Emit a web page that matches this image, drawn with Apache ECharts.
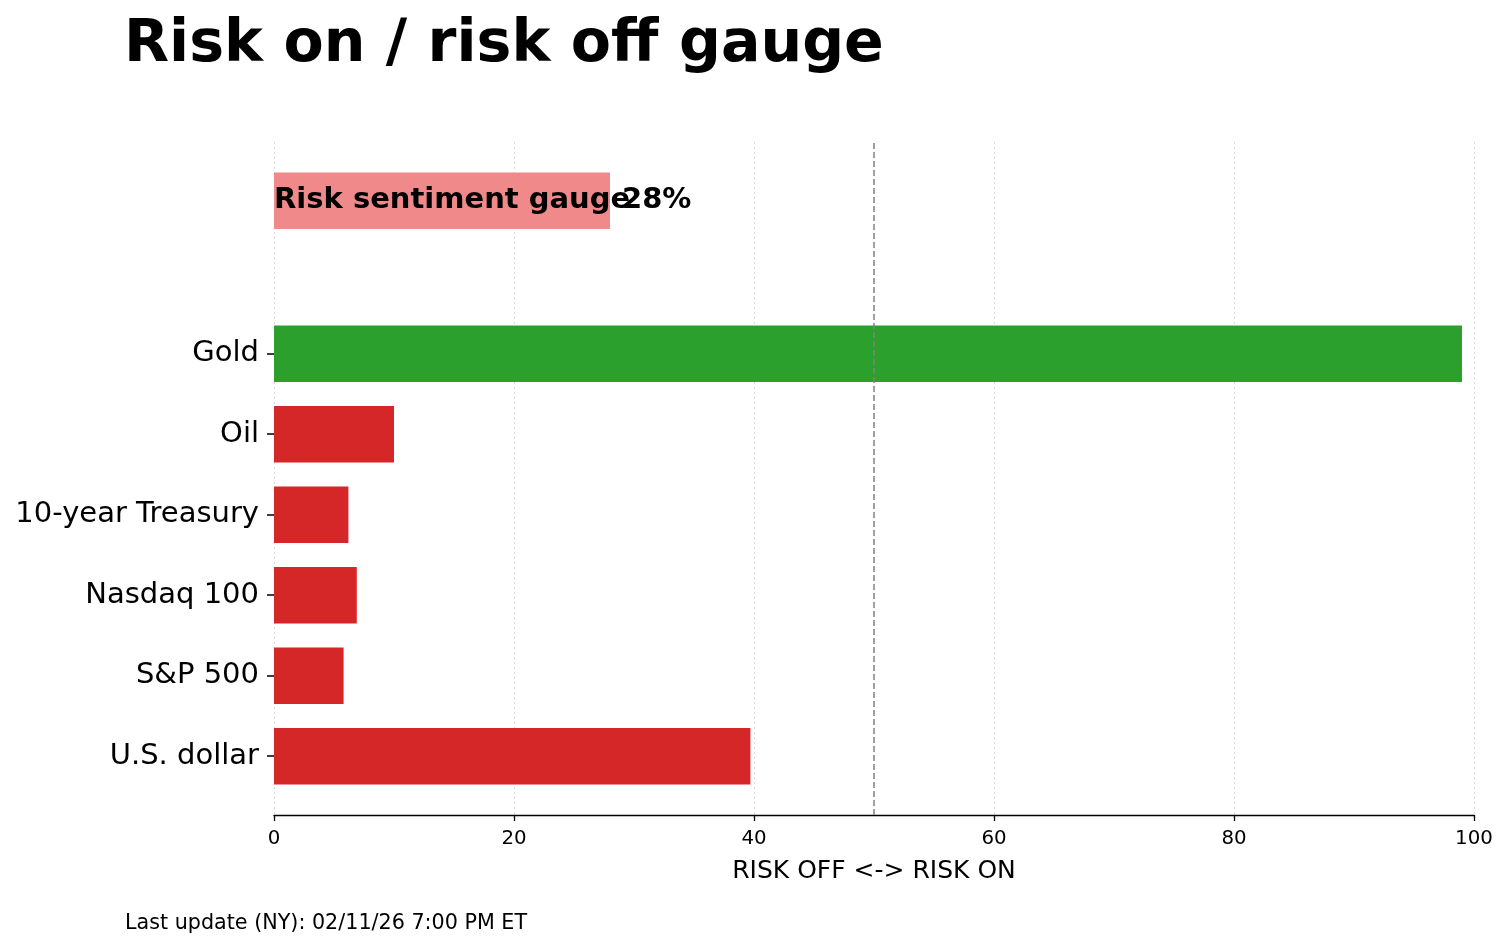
<!DOCTYPE html>
<html>
<head>
<meta charset="utf-8">
<script src="https://cdn.jsdelivr.net/npm/echarts@6/dist/echarts.min.js"></script>
<style>html,body{margin:0;padding:0;background:#fff}#c{width:1509px;height:946px}</style>
</head>
<body>
<div id="c"></div>
<script>
const categories = ['U.S. dollar', 'S&P 500', 'Nasdaq 100', '10-year Treasury', 'Oil', 'Gold'];
const values = [39.7, 5.8, 6.9, 6.2, 10.0, 99.0];
const gaugeValue = 28;
const gaugeLabel = 'Risk sentiment gauge';
const threshold = 50;
const xTicks = [0, 20, 40, 60, 80, 100];
const titleText = 'Risk on / risk off gauge';
const footerText = 'Last update (NY): 02/11/26 7:00 PM ET';
const xName = 'RISK OFF <-> RISK ON';

const FONT = 'DejaVu Sans';
const BAR_H = 0.7;
const gaugePos = categories.length + 0.9;
const lo = -BAR_H / 2, hi = gaugePos + BAR_H / 2;
const padY = 0.05 * (hi - lo);

const chart = echarts.init(document.getElementById('c'), null, {renderer: 'canvas'});

const assetData = values.map((v, i) => [v, i]);

chart.setOption({
  animation: false,
  backgroundColor: '#fff',
  title: [
    {text: titleText, left: 119, top: 11,
     textStyle: {fontFamily: FONT, fontSize: 58.6, fontWeight: 'bold', color: '#000'}},
    {text: footerText, left: 120, top: 908,
     textStyle: {fontFamily: FONT, fontSize: 20.7, fontWeight: 'normal', color: '#000'}}
  ],
  grid: {left: 274, right: 35, top: 142, bottom: 131, containLabel: false},
  xAxis: {
    type: 'value', min: 0, max: 100, interval: 20,
    name: xName, nameLocation: 'middle', nameGap: 44,
    nameTextStyle: {fontFamily: FONT, fontSize: 25, color: '#000'},
    axisLine: {show: true, onZero: false, lineStyle: {color: '#000', width: 1.3}},
    axisTick: {show: true, length: 6, lineStyle: {color: '#000', width: 1.3}},
    axisLabel: {fontFamily: FONT, fontSize: 19.8, color: '#000', margin: 14,
      customValues: xTicks},
    splitLine: {show: true, lineStyle: {color: '#d9d9d9', type: [2, 3], width: 1}}
  },
  yAxis: {
    type: 'value', min: lo - padY, max: hi + padY,
    axisLine: {show: false},
    axisTick: {show: true, length: 7, customValues: categories.map((c, i) => i),
      lineStyle: {color: '#000', width: 1.5}},
    axisLabel: {show: true, fontFamily: FONT, fontSize: 29, color: '#000', margin: 15,
      customValues: categories.map((c, i) => i),
      formatter: v => categories[Math.round(v)] || ''},
    splitLine: {show: false}
  },
  series: [
    {
      type: 'custom',
      data: assetData,
      encode: {x: 0, y: 1},
      renderItem: function (params, api) {
        const v = api.value(0), y = api.value(1);
        const p0 = api.coord([0, y]);
        const p1 = api.coord([v, y]);
        const h = api.size([0, BAR_H])[1];
        return {
          type: 'rect',
          shape: {x: p0[0], y: p0[1] - h / 2, width: p1[0] - p0[0], height: h},
          style: {fill: v >= threshold ? '#2ca02c' : '#d62728'}
        };
      },
      markLine: {
        silent: true, symbol: 'none', label: {show: false},
        lineStyle: {color: '#808080', type: [6, 3], width: 1.5},
        data: [{xAxis: threshold}]
      },
      z: 3
    },
    {
      type: 'custom',
      data: [[gaugeValue, gaugePos]],
      encode: {x: 0, y: 1},
      renderItem: function (params, api) {
        const v = api.value(0), y = api.value(1);
        const p0 = api.coord([0, y]);
        const p1 = api.coord([v, y]);
        const h = api.size([0, BAR_H])[1];
        return {
          type: 'group',
          children: [
            {type: 'rect',
             shape: {x: p0[0], y: p0[1] - h / 2, width: p1[0] - p0[0], height: h},
             style: {fill: '#f08a8a'}},
            {type: 'text', z2: 10,
             style: {x: p0[0], y: p0[1], text: gaugeLabel, fill: '#000',
               font: 'bold 29px "' + FONT + '"', align: 'left', verticalAlign: 'middle'}},
            {type: 'text', z2: 10,
             style: {x: p1[0] + 12, y: p0[1], text: Math.round(v) + '%', fill: '#000',
               font: 'bold 29px "' + FONT + '"', align: 'left', verticalAlign: 'middle'}}
          ]
        };
      },
      z: 4
    }
  ]
});
</script>
</body>
</html>
